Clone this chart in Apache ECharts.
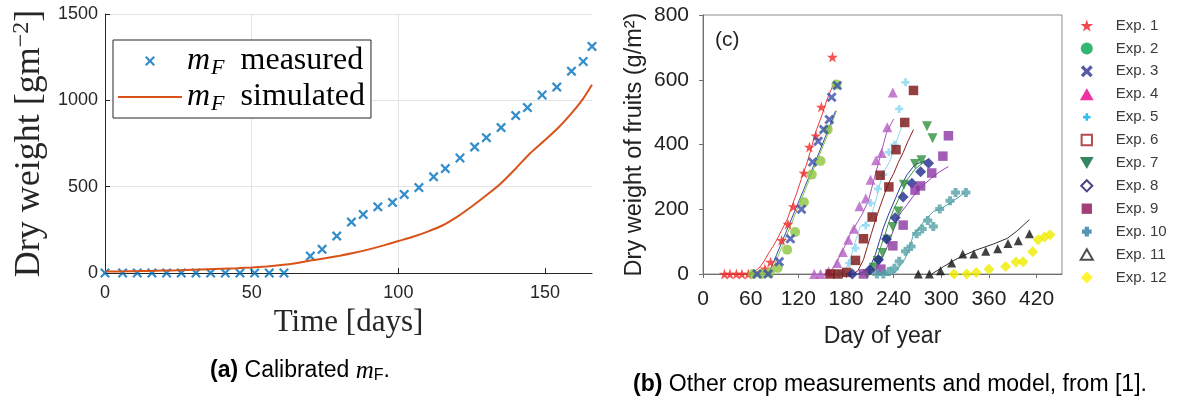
<!DOCTYPE html>
<html><head><meta charset="utf-8">
<script src="https://cdn.jsdelivr.net/npm/echarts@6/dist/echarts.min.js"></script>
<style>html,body{margin:0;padding:0;background:#fff}#c{width:1179px;height:406px}</style>
</head><body><div id="c"></div>
<script>
// ---------- (a) calibrated m_F ----------
const measuredT = [0,6,11,16,21,26,31,36,41,46,51,56,61,70,74,79,84,88,93,98,102,107,112,116,121,126,130,135,140,144,149,154,159,163,166];
const measuredV = [0,0,0,0,0,0,0,0,0,0,0,0,0,98,137,214,295,339,383,409,455,495,557,605,666,730,784,842,912,958,1031,1077,1169,1225,1312];
const simT = [0,5,10,15,20,25,30,35,40,45,50,55,60,65,70,75,80,85,90,95,100,105,110,115,120,125,130,135,140,145,150,155,160,163,166];
const simV = [8,9,10,12,14,16,19,22,25,28,32,38,46,57,72,85,100,117,137,160,185,210,240,275,325,385,450,520,605,695,770,850,945,1010,1090];
const xTicksA = [0,50,100,150];

// ---------- (b) other crop measurements ----------
const expNames = ['Exp. 1','Exp. 2','Exp. 3','Exp. 4','Exp. 5','Exp. 6','Exp. 7','Exp. 8','Exp. 9','Exp. 10','Exp. 11','Exp. 12'];
const xTicksB = [0,60,120,180,240,300,360,420];

const exp1Day = [27,34,42,49,57,78,85,99,107,114,127,134,142,149,163];
const exp1Val = [0,0,0,0,0,16,37,104,154,208,312,392,427,516,670];
const exp1LineDay = [57,62,67,72,77,82,88,93,99,106,112,118,124,131,137,143,150,156,164];
const exp1LineVal = [2,5,12,22,40,62,85,106,135,168,210,250,295,343,395,446,492,538,585];

const exp2Day = [63,74,84,94,106,116,127,137,148,157,168];
const exp2Val = [0,0,4,19,75,130,222,307,349,446,585];
const exp2LineDay = [82,86,90,100,110,120,130,140,150,160,168];
const exp2LineVal = [0,8,28,88,148,208,268,328,388,448,505];

const exp3Day = [68,82,96,110,124,138,145,152,159,162,169];
const exp3Val = [0,0,38,109,200,346,410,446,477,546,582];
const exp3LineDay = [79,83,87,97,107,117,127,137,147,157,167];
const exp3LineVal = [0,6,26,85,144,203,262,321,380,442,504];

const exp4Day = [140,148,158,169,176,183,190,197,205,211,218,225,232,239];
const exp4Val = [0,0,8,34,68,106,140,209,233,291,351,374,453,561];
const exp4LineDay = [152,159,166,172,179,185,194,200,208,214,220,226,231,240];
const exp4LineVal = [0,4,25,54,88,121,158,183,224,280,335,390,436,479];

const exp5Day = [171,177,184,192,205,211,220,227,234,241,247,255];
const exp5Val = [0,3,34,80,150,219,263,307,376,399,510,592];
const exp5LineDay = [174,180,186,193,198,206,212,218,223,229,236,243,248,254];
const exp5LineVal = [0,15,50,110,147,158,180,230,281,320,353,405,440,482];

const exp6Day = [160,170,181,192,202,213,223,234,243,254,265];
const exp6Val = [0,0,5,42,109,176,305,269,384,468,567];
const exp6LineDay = [189,195,202,207,212,217,223,229,234,240,246,252,258,265];
const exp6LineVal = [0,10,44,85,125,165,209,250,282,310,345,375,410,446];

const exp7Day = [207,215,220,226,232,239,246,253,267,275,282,289];
const exp7Val = [0,19,40,65,106,145,193,276,340,351,456,419];
const exp7LineDay = [194,200,208,214,219,224,229,234,240,248,257,267,282];
const exp7LineVal = [0,5,13,30,49,85,121,160,199,240,291,324,353];

const exp8Day = [188,210,221,231,242,252,263,274,284];
const exp8Val = [0,13,44,108,174,238,280,316,342];
const exp8LineDay = [195,205,211,217,222,227,233,238,248,257,267,280];
const exp8LineVal = [0,8,25,60,100,142,180,209,266,307,338,350];

const exp9Day = [202,224,239,252,267,274,288,302,309];
const exp9Val = [0,15,87,151,259,272,312,364,427];
const exp9LineDay = [210,216,223,228,234,239,244,250,257,264,271,280,288,298,309];
const exp9LineVal = [0,8,34,62,96,130,168,192,214,238,260,280,297,316,332];

const exp10Day = [219,227,234,241,247,255,262,269,276,283,290,298,311,318,331];
const exp10Val = [0,0,8,18,39,70,85,124,139,165,147,201,226,252,252];
const exp10LineDay = [238,243,248,254,259,265,271,280,290,297,311,321,330];
const exp10LineVal = [0,8,25,45,75,121,140,168,193,199,219,236,252];

const exp11Day = [271,285,299,313,327,341,356,371,384,397,411];
const exp11Val = [0,0,10,34,62,62,70,78,94,103,124];
const exp11LineDay = [288,303,316,328,345,366,383,395,411];
const exp11LineVal = [0,23,42,57,75,93,110,132,168];

const exp12Day = [316,332,344,360,381,394,403,415,422,430,437];
const exp12Val = [0,0,5,15,23,37,38,69,106,114,121];

// ---------- symbols ----------
const STAR = 'path://M50,0L61.2,34.5L97.6,34.5L68.2,55.9L79.4,90.5L50,69.1L20.6,90.5L31.8,55.9L2.4,34.5L38.8,34.5Z';
const XMARK = 'path://M0,16L16,0L50,34L84,0L100,16L66,50L100,84L84,100L50,66L16,100L0,84L34,50Z';
const XBOLD = 'path://M0,20L20,0L50,30L80,0L100,20L70,50L100,80L80,100L50,70L20,100L0,80L30,50Z';
const PLUS = 'path://M33,0H67V33H100V67H67V100H33V67H0V33H33Z';
const RCROSS = 'path://M28,0H72V28H100V72H72V100H28V72H0V28H28Z';
const DTRI = 'path://M0,0L100,0L50,87Z';
const TRI = 'path://M50,0L100,87L0,87Z';
const DIAM = 'path://M50,0L100,50L50,100L0,50Z';
const PLUS_SM = 'path://M-30,-30M130,130M33,0H67V33H100V67H67V100H33V67H0V33H33Z';
const RCROSS_SM = 'path://M-12,-12M112,112M28,0H72V28H100V72H72V100H28V72H0V28H28Z';
const RECT_SM = 'path://M-8,-8M108,108M0,0H100V100H0Z';
const TRI_SM = 'path://M-6,-6M106,93M50,0L100,87L0,87Z';
const DIAM_SM = 'path://M-4,-4M104,104M50,0L100,50L50,100L0,50Z';
const LINEICON = 'path://M0,0H64V2.2H0Z';

const zip = (a, b) => a.map((v, i) => [v, b[i]]);

const SERIF = 'Liberation Serif';
const SANS = 'Liberation Sans';

const expMarks = [
  {d: exp1Day, v: exp1Val, ld: exp1LineDay, lv: exp1LineVal, sym: STAR, size: 11, c: '#f02828', lc: '#ee3b3b'},
  {d: exp2Day, v: exp2Val, ld: exp2LineDay, lv: exp2LineVal, sym: 'circle', size: 10, c: '#8cc63f', lc: '#8cc63f'},
  {d: exp3Day, v: exp3Val, ld: exp3LineDay, lv: exp3LineVal, sym: XBOLD, size: 10, c: '#3a4eaa', lc: '#3a4eaa'},
  {d: exp4Day, v: exp4Val, ld: exp4LineDay, lv: exp4LineVal, sym: TRI, size: 10, c: '#b55ec4', lc: '#a455b8'},
  {d: exp5Day, v: exp5Val, ld: exp5LineDay, lv: exp5LineVal, sym: PLUS, size: 8, c: '#88d6f0', lc: '#88d6f0'},
  {d: exp6Day, v: exp6Val, ld: exp6LineDay, lv: exp6LineVal, sym: 'rect', size: 9.5, c: '#7b1111', lc: '#8b1e1e'},
  {d: exp7Day, v: exp7Val, ld: exp7LineDay, lv: exp7LineVal, sym: DTRI, size: 10, c: '#2f8f3f', lc: '#3a9a48'},
  {d: exp8Day, v: exp8Val, ld: exp8LineDay, lv: exp8LineVal, sym: DIAM, size: 11, c: '#1f2b8c', lc: '#2c3b9c'},
  {d: exp9Day, v: exp9Val, ld: exp9LineDay, lv: exp9LineVal, sym: 'rect', size: 9.5, c: '#8b36a3', lc: '#9342b4'},
  {d: exp10Day, v: exp10Val, ld: exp10LineDay, lv: exp10LineVal, sym: RCROSS, size: 9, c: '#52a0a8', lc: '#4aa3a8'},
  {d: exp11Day, v: exp11Val, ld: exp11LineDay, lv: exp11LineVal, sym: TRI, size: 9, c: '#111111', lc: '#333333'},
  {d: exp12Day, v: exp12Val, ld: null, lv: null, sym: DIAM, size: 11, c: '#f0ec00', lc: null}
];

const legendIcons = [
  {icon: STAR, itemStyle: {color: '#ee1c24'}},
  {icon: 'circle', itemStyle: {color: '#00a651'}},
  {icon: XBOLD, itemStyle: {color: '#2e3192'}},
  {icon: TRI, itemStyle: {color: '#ec008c'}},
  {icon: PLUS_SM, itemStyle: {color: '#00aeef'}},
  {icon: RECT_SM, itemStyle: {color: '#ffffff', borderColor: '#9e1f22', borderWidth: 2}},
  {icon: DTRI, itemStyle: {color: '#006838'}},
  {icon: DIAM_SM, itemStyle: {color: '#ffffff', borderColor: '#1b1464', borderWidth: 2}},
  {icon: RECT_SM, itemStyle: {color: '#8b0e56'}},
  {icon: RCROSS_SM, itemStyle: {color: '#2a7aa0'}},
  {icon: TRI_SM, itemStyle: {color: '#ffffff', borderColor: '#222222', borderWidth: 2}},
  {icon: DIAM, itemStyle: {color: '#fff200'}}
];

const series = [
  {type: 'scatter', name: 'mF measured', xAxisIndex: 0, yAxisIndex: 0, data: zip(measuredT, measuredV),
   symbol: XMARK, symbolSize: 10, itemStyle: {color: '#0072BD'}, z: 3},
  {type: 'line', name: 'mF simulated', xAxisIndex: 0, yAxisIndex: 0, data: zip(simT, simV),
   symbol: 'none', smooth: 0.25, lineStyle: {color: '#D95319', width: 2}, itemStyle: {color: '#D95319'}, z: 4}
];
expMarks.forEach((e, i) => {
  if (e.ld) {
    series.push({type: 'line', name: expNames[i] + ' model', xAxisIndex: 1, yAxisIndex: 1,
      data: zip(e.ld, e.lv), symbol: 'none', lineStyle: {color: e.lc, width: 1}, itemStyle: {color: e.lc}, z: 2});
  }
});
expMarks.forEach((e, i) => {
  series.push({type: 'scatter', name: expNames[i], xAxisIndex: 1, yAxisIndex: 1,
    data: zip(e.d, e.v), symbol: e.sym, symbolSize: e.size, itemStyle: {color: e.c}, z: 3});
});

const chart = echarts.init(document.getElementById('c'), null, {renderer: 'canvas'});
chart.setOption({
  animation: false,
  backgroundColor: '#ffffff',
  grid: [
    {left: 105, top: 14, width: 487, height: 259},
    {left: 703, top: 15, width: 359, height: 259, show: true, borderColor: '#8c8c8c', borderWidth: 1}
  ],
  xAxis: [
    {gridIndex: 0, type: 'value', min: 0, max: 166, interval: 50,
     axisLine: {show: true, lineStyle: {color: '#262626', width: 1}},
     axisTick: {show: true, inside: true, length: 5, customValues: xTicksA, lineStyle: {color: '#262626'}},
     axisLabel: {customValues: xTicksA, fontFamily: SANS, fontSize: 18, color: '#262626', margin: 11},
     splitLine: {show: true, showMaxLine: false, lineStyle: {color: '#e3e3e3'}},
     name: 'Time [days]', nameLocation: 'middle', nameGap: 34,
     nameTextStyle: {fontFamily: SERIF, fontSize: 31, color: '#262626'}},
    {gridIndex: 1, type: 'value', min: 0, max: 452, interval: 60,
     axisLine: {show: true, lineStyle: {color: '#707070', width: 1}},
     axisTick: {show: true, inside: false, length: 4, customValues: xTicksB, lineStyle: {color: '#707070'}},
     axisLabel: {customValues: xTicksB, fontFamily: SANS, fontSize: 21, color: '#222', margin: 15},
     splitLine: {show: false},
     name: 'Day of year', nameLocation: 'middle', nameGap: 51,
     nameTextStyle: {fontFamily: SANS, fontSize: 23, color: '#222'}}
  ],
  yAxis: [
    {gridIndex: 0, type: 'value', min: 0, max: 1500, interval: 500,
     axisLine: {show: true, lineStyle: {color: '#262626', width: 1}},
     axisTick: {show: true, inside: true, length: 5, lineStyle: {color: '#262626'}},
     axisLabel: {fontFamily: SANS, fontSize: 18, color: '#262626', margin: 7, formatter: v => String(v)},
     splitLine: {show: true, lineStyle: {color: '#e3e3e3'}},
     name: 'Dry weight [gm{sup|\u22122}]', nameLocation: 'middle', nameGap: 55,
     nameTextStyle: {fontFamily: SERIF, fontSize: 36, color: '#262626',
       rich: {sup: {fontFamily: SERIF, fontSize: 24, color: '#262626', padding: [0, 0, 16, 0]}}}},
    {gridIndex: 1, type: 'value', min: 0, max: 800, interval: 200,
     axisLine: {show: true, lineStyle: {color: '#707070', width: 1}},
     axisTick: {show: true, inside: false, length: 4, lineStyle: {color: '#707070'}},
     axisLabel: {fontFamily: SANS, fontSize: 21, color: '#222', margin: 14, formatter: v => String(v)},
     splitLine: {show: false},
     name: 'Dry weight of fruits (g/m\u00b2)', nameLocation: 'middle', nameGap: 56,
     nameTextStyle: {fontFamily: SANS, fontSize: 23.5, color: '#222'}}
  ],
  legend: [
    {data: [{name: 'mF measured'}, {name: 'mF simulated', icon: LINEICON}],
     left: 113, top: 40, orient: 'vertical', itemWidth: 64, itemHeight: 10, itemGap: 0,
     padding: [3, 6, 3, 5], borderColor: '#262626', borderWidth: 1, backgroundColor: '#ffffff',
     selectedMode: false,
     formatter: n => n === 'mF measured' ? '{i|m}{s|F}{t|measured}' : '{i|m}{s|F}{t|simulated}',
     textStyle: {fontFamily: SERIF, fontSize: 32, color: '#000',
       rich: {
         i: {fontFamily: SERIF, fontStyle: 'italic', fontSize: 32, color: '#000', lineHeight: 36},
         s: {fontFamily: SERIF, fontStyle: 'italic', fontSize: 22, color: '#000', lineHeight: 22, padding: [14, 0, 0, 1]},
         t: {fontFamily: SERIF, fontSize: 32, color: '#000', lineHeight: 36, padding: [0, 0, 0, 16]}
       }}},
    {data: expNames.map((n, i) => Object.assign({name: n}, legendIcons[i])),
     left: 1079, top: 18, orient: 'vertical', itemWidth: 14, itemHeight: 12, itemGap: 7.9,
     padding: 0, selectedMode: false,
     textStyle: {fontFamily: SANS, fontSize: 15, color: '#3a3a3a', lineHeight: 15, padding: [0, 0, 0, 17]}}
  ],
  graphic: [
    {type: 'text', left: 715, top: 30, style: {text: '(c)', fontFamily: SANS, fontSize: 21, fill: '#222'}},
    {type: 'text', style: {x: 300, y: 371, align: 'center', verticalAlign: 'middle',
      text: '{b|(a)}{r| Calibrated }{i|m}{s|F}{r|.}',
      rich: {
        b: {fontFamily: SANS, fontWeight: 'bold', fontSize: 23, fill: '#000'},
        r: {fontFamily: SANS, fontSize: 23, fill: '#000'},
        i: {fontFamily: SERIF, fontStyle: 'italic', fontSize: 25, fill: '#000', lineHeight: 28},
        s: {fontFamily: SANS, fontSize: 16, fill: '#000', lineHeight: 16, padding: [10, 0, 0, 0]}
      }}},
    {type: 'text', style: {x: 890, y: 385, align: 'center', verticalAlign: 'middle',
      text: '{b|(b)}{r| Other crop measurements and model, from [1].}',
      rich: {
        b: {fontFamily: SANS, fontWeight: 'bold', fontSize: 23, fill: '#000'},
        r: {fontFamily: SANS, fontSize: 23, fill: '#000'}
      }}}
  ],
  series: series
});
</script></body></html>
